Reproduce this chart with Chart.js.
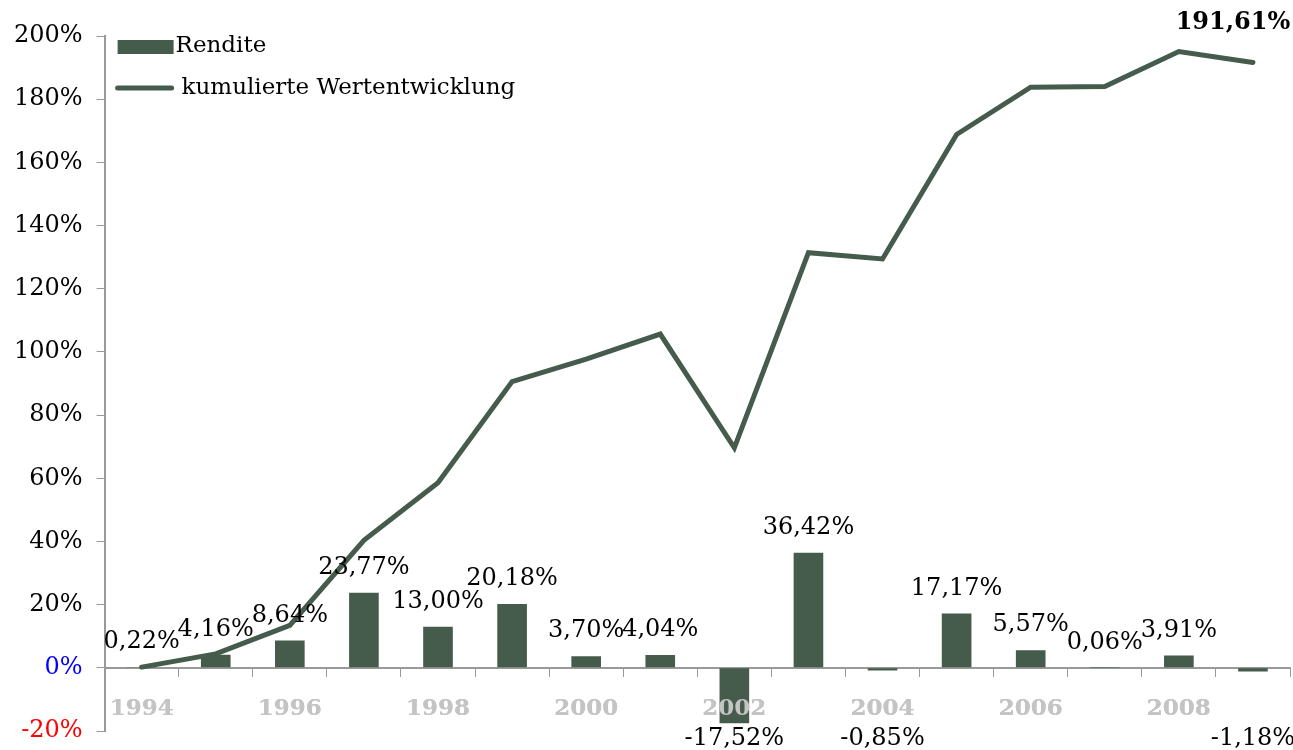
<!DOCTYPE html>
<html>
<head>
<meta charset="utf-8">
<title>Rendite und kumulierte Wertentwicklung</title>
<script src="https://cdn.jsdelivr.net/npm/chart.js@4.4.0/dist/chart.umd.min.js"></script>
<style>
  html, body { margin: 0; padding: 0; background: #fff; }
  canvas { display: block; }
</style>
</head>
<body>
<canvas id="chart" width="1293" height="750"></canvas>
<script>
const years = ['1994', '1995', '1996', '1997', '1998', '1999', '2000', '2001',
               '2002', '2003', '2004', '2005', '2006', '2007', '2008', '2009'];
// jährliche Rendite in %
const rendite = [0.22, 4.16, 8.64, 23.77, 13.00, 20.18, 3.70, 4.04,
                 -17.52, 36.42, -0.85, 17.17, 5.57, 0.06, 3.91, -1.18];
// kumulierte Wertentwicklung in %
const kumuliert = [0.22, 4.39, 13.41, 40.37, 58.61, 90.62, 97.68, 105.66,
                   69.63, 131.41, 129.44, 168.84, 183.81, 183.98, 195.08, 191.61];

const green = '#455b4b';
const serif = '"DejaVu Serif", serif';

Chart.defaults.font.family = serif;

const fmt = v => v.toFixed(2).replace('.', ',') + '%';

// year labels on top of the bars, value labels, end label of the line and the legend
const labelPlugin = {
  id: 'werte',
  afterDatasetsDraw(chart) {
    const ctx = chart.ctx;
    const ys = chart.scales.y;
    const ca = chart.chartArea;
    chart.scales.x.drawLabels(ca);

    ctx.save();
    ctx.fillStyle = '#000';
    ctx.textAlign = 'center';
    ctx.textBaseline = 'middle';
    ctx.font = '24px ' + serif;
    chart.getDatasetMeta(0).data.forEach((bar, i) => {
      const v = rendite[i];
      const ty = v >= 0 ? bar.y - 25 : ys.bottom + 8;
      ctx.fillText(fmt(v), bar.x, ty);
    });

    const lineMeta = chart.getDatasetMeta(1);
    const last = lineMeta.data[lineMeta.data.length - 1];
    ctx.font = 'bold 24px ' + serif;
    ctx.fillText(fmt(kumuliert[kumuliert.length - 1]), last.x - 20, last.y - 40);

    // legend
    ctx.textAlign = 'left';
    ctx.font = '23px ' + serif;
    ctx.fillStyle = green;
    ctx.fillRect(ca.left + 13, ca.top + 4, 56, 14);
    ctx.fillStyle = '#000';
    ctx.fillText(chart.data.datasets[0].label, ca.left + 71, ca.top + 10);

    ctx.strokeStyle = green;
    ctx.lineWidth = 5;
    ctx.lineCap = 'round';
    ctx.beginPath();
    ctx.moveTo(ca.left + 13, ca.top + 52);
    ctx.lineTo(ca.left + 67, ca.top + 52);
    ctx.stroke();
    ctx.fillText(chart.data.datasets[1].label, ca.left + 77, ca.top + 52);
    ctx.restore();
  }
};

new Chart(document.getElementById('chart'), {
  type: 'bar',
  data: {
    labels: years,
    datasets: [
      {
        type: 'bar',
        label: 'Rendite',
        data: rendite,
        backgroundColor: green,
        categoryPercentage: 0.8,
        barPercentage: 0.5,
        order: 1
      },
      {
        type: 'line',
        label: 'kumulierte Wertentwicklung',
        data: kumuliert,
        borderColor: green,
        borderWidth: 5,
        borderCapStyle: 'round',
        pointRadius: 0,
        tension: 0,
        fill: false,
        order: 0
      }
    ]
  },
  options: {
    responsive: false,
    animation: false,
    layout: { padding: { top: 36, bottom: 19, left: 0, right: 3 } },
    plugins: {
      legend: { display: false },
      tooltip: { enabled: false }
    },
    scales: {
      x: {
        position: { y: 0 },
        grid: { drawOnChartArea: false, offset: true, tickLength: 8, color: '#999' },
        border: { color: '#999', width: 2 },
        ticks: {
          autoSkip: false,
          maxRotation: 0,
          padding: 19,
          color: '#c4c4c4',
          font: { size: 23, weight: 'bold' },
          callback: function (v, i) { return i % 2 === 0 ? this.getLabelForValue(v) : ''; }
        }
      },
      y: {
        min: -20,
        max: 200,
        grid: { drawOnChartArea: false, tickLength: 8, color: '#999' },
        border: { color: '#999', width: 2 },
        // tick padding should only push labels sideways, not shrink the plot height
        afterFit: s => { s.paddingTop = 12; s.paddingBottom = 12; },
        ticks: {
          stepSize: 20,
          padding: 14,
          font: { size: 24 },
          color: c => c.tick.value === 0 ? '#0000ff' : (c.tick.value === -20 ? '#ff0000' : '#000'),
          callback: v => v + '%'
        }
      }
    }
  },
  plugins: [labelPlugin]
});
</script>
</body>
</html>
